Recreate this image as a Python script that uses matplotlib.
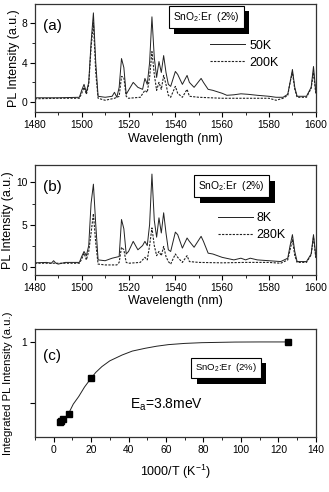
import matplotlib
matplotlib.use("Agg")
import matplotlib.pyplot as plt
import matplotlib.patheffects as pe
from matplotlib.ticker import MultipleLocator

plt.rcParams["font.family"] = ["Liberation Sans", "DejaVu Sans"]
plt.rcParams["mathtext.default"] = "regular"

# ── Datos ────────────────────────────────────────────────────────────────────
# (a) 50 K, línea continua
wl_a50 = [1480, 1490, 1499, 1500, 1501, 1502, 1503, 1504, 1505, 1506, 1507, 1510,
          1513, 1514, 1515, 1516, 1517, 1518, 1519, 1520, 1522, 1524, 1526, 1527,
          1528, 1529, 1530, 1531, 1532, 1533, 1534, 1535, 1536, 1537, 1538, 1540,
          1541, 1543, 1545, 1546, 1548, 1551, 1552, 1554, 1556, 1560, 1562, 1565,
          1568, 1571, 1575, 1580, 1583, 1586, 1588, 1589, 1590, 1591, 1592, 1596,
          1598, 1599, 1600]
pl_a50 = [0.45, 0.45, 0.5, 1.2, 1.8, 1.0, 2.0, 6.0, 9.0, 4.0, 0.6, 0.5,
          0.6, 1.0, 0.5, 1.5, 4.4, 3.5, 0.8, 1.2, 2.0, 1.5, 1.3, 2.4,
          1.8, 4.0, 8.6, 4.5, 2.5, 4.1, 3.0, 4.7, 3.0, 1.8, 1.6, 3.1,
          2.8, 1.8, 2.7, 2.0, 1.5, 2.4, 2.0, 1.3, 1.2, 0.9, 0.7, 0.75,
          0.85, 0.8, 0.7, 0.6, 0.5, 0.5, 0.8, 2.0, 3.3, 1.5, 0.6, 0.6,
          1.5, 3.6, 1.0]

# (a) 200 K, línea discontinua
wl_a200 = [1480, 1490, 1499, 1500, 1501, 1502, 1503, 1504, 1505, 1506, 1507, 1510,
           1514, 1516, 1517, 1518, 1519, 1520, 1525, 1527, 1528, 1529, 1530, 1531,
           1532, 1533, 1534, 1535, 1536, 1537, 1538, 1540, 1541, 1543, 1545, 1546,
           1550, 1560, 1570, 1580, 1583, 1586, 1588, 1589, 1590, 1591, 1592, 1596,
           1598, 1599, 1600]
pl_a200 = [0.35, 0.4, 0.4, 0.9, 1.5, 0.8, 1.8, 5.5, 8.0, 3.0, 0.4, 0.2,
           0.4, 0.6, 2.6, 2.5, 0.6, 0.4, 0.5, 1.2, 1.0, 2.5, 5.1, 2.8,
           1.2, 2.0, 1.3, 2.7, 1.8, 0.7, 0.5, 1.6, 0.9, 0.5, 1.3, 0.6,
           0.5, 0.4, 0.4, 0.4, 0.2, 0.4, 0.7, 2.0, 3.0, 1.3, 0.5, 0.5,
           1.4, 3.0, 0.8]

# (b) 8 K, línea continua
wl_b8 = [1480, 1485, 1487, 1488, 1489, 1490, 1493, 1499, 1500, 1501, 1502, 1503,
         1504, 1505, 1506, 1507, 1510, 1513, 1516, 1517, 1518, 1519, 1520, 1522,
         1524, 1526, 1527, 1528, 1529, 1530, 1531, 1532, 1533, 1534, 1535, 1536,
         1537, 1538, 1540, 1541, 1543, 1545, 1546, 1548, 1551, 1552, 1554, 1556,
         1560, 1565, 1568, 1570, 1572, 1575, 1580, 1585, 1588, 1589, 1590, 1591,
         1592, 1596, 1598, 1599, 1600]
pl_b8 = [0.45, 0.5, 0.4, 0.7, 0.4, 0.3, 0.5, 0.5, 1.2, 1.8, 1.3, 2.5,
         7.5, 9.8, 5.0, 0.8, 0.7, 1.0, 1.2, 5.6, 4.5, 1.5, 1.8, 3.0,
         2.0, 2.5, 3.0, 2.5, 5.0, 11.0, 5.5, 3.5, 5.8, 4.0, 6.4, 4.0,
         2.0, 1.8, 4.1, 3.8, 2.2, 3.4, 3.0, 2.3, 3.6, 3.0, 1.6, 1.5,
         1.1, 0.8, 1.0, 0.8, 1.0, 0.8, 0.7, 0.6, 1.0, 2.5, 3.8, 1.8,
         0.6, 0.6, 1.5, 3.8, 1.2]

# (b) 280 K, línea discontinua
wl_b280 = [1480, 1490, 1499, 1500, 1501, 1502, 1503, 1504, 1505, 1506, 1507, 1510,
           1515, 1516, 1517, 1518, 1519, 1520, 1525, 1527, 1528, 1529, 1530, 1531,
           1532, 1533, 1534, 1535, 1536, 1537, 1538, 1540, 1541, 1543, 1545, 1546,
           1550, 1560, 1570, 1580, 1585, 1588, 1589, 1590, 1591, 1592, 1596, 1598,
           1599, 1600]
pl_b280 = [0.4, 0.4, 0.4, 0.9, 1.6, 0.8, 1.8, 4.0, 6.3, 2.8, 0.3, 0.2,
           0.2, 0.5, 2.3, 2.0, 0.5, 0.4, 0.5, 1.1, 0.8, 2.5, 4.6, 2.5,
           1.3, 1.8, 1.3, 2.4, 1.2, 0.6, 0.3, 1.5, 1.1, 0.5, 1.3, 0.6,
           0.5, 0.45, 0.5, 0.5, 0.4, 0.8, 2.0, 3.2, 1.3, 0.5, 0.5, 1.4,
           3.5, 1.0]

# (c) intensidad integrada vs 1000/T
inv_T = [3.6, 4.0, 5.0, 8.0, 20.0, 125.0]
int_pl = [0.34, 0.35, 0.37, 0.41, 0.705, 1.0]

# (c) curva de ajuste
fit_x = [8.1, 10.5, 13.4, 16.5, 19.6, 22.5, 25.8, 30.0, 36.6, 42.0, 48.9,
         55.0, 61.3, 70.0, 79.1, 96.8, 110.0, 124.4]
fit_y = [0.416, 0.49, 0.552, 0.63, 0.694, 0.75, 0.798, 0.845, 0.893, 0.925, 0.948,
         0.965, 0.978, 0.988, 0.994, 0.999, 1.0, 1.0]

SAMPLE = "SnO$_2$:Er  (2%)"

# ── Figura ────────────────────────────────────────────────────────────────────
fig = plt.figure(figsize=(3.29, 4.92), dpi=100)
ax_a = fig.add_axes([0.106, 0.772, 0.854, 0.220])
ax_b = fig.add_axes([0.106, 0.441, 0.854, 0.224])
ax_c = fig.add_axes([0.106, 0.112, 0.854, 0.2195])

SHADOW = [pe.withSimplePatchShadow(offset=(4, -4), shadow_rgbFace="black", alpha=1.0)]


def sample_box(ax, x, y, fs):
    t = ax.text(x, y, SAMPLE, transform=ax.transAxes, ha="center", va="center",
                fontsize=fs,
                bbox=dict(boxstyle="square,pad=0.4", fc="white", ec="black", lw=0.8))
    t.get_bbox_patch().set_path_effects(SHADOW)


def style(ax):
    for s in ax.spines.values():
        s.set_linewidth(0.9)
        s.set_color("#333333")
    ax.tick_params(which="both", direction="out", labelsize=7.4, pad=2)
    ax.tick_params(which="major", length=3.5, width=0.8)
    ax.tick_params(which="minor", length=2, width=0.6)


# (a) y (b): espectros
for ax, wl1, pl1, wl2, pl2, labs, ylim, ymaj, tag, box_xy, leg_xy in [
        (ax_a, wl_a50, pl_a50, wl_a200, pl_a200, ("50K", "200K"), (-1, 9.9), 4,
         "(a)", (0.61, 0.88), (0.625, 0.67)),
        (ax_b, wl_b8, pl_b8, wl_b280, pl_b280, ("8K", "280K"), (-1, 12.1), 5,
         "(b)", (0.70, 0.805), (0.65, 0.57))]:
    ax.plot(wl1, pl1, color="#222222", lw=0.7, label=labs[0])
    ax.plot(wl2, pl2, color="#222222", lw=0.8, ls=(0, (2, 1.2)), label=labs[1])
    ax.set_xlim(1480, 1600)
    ax.set_ylim(*ylim)
    ax.xaxis.set_major_locator(MultipleLocator(20))
    ax.xaxis.set_minor_locator(MultipleLocator(10))
    ax.yaxis.set_major_locator(MultipleLocator(ymaj))
    ax.yaxis.set_minor_locator(MultipleLocator(ymaj / 2))
    ax.set_xlabel("Wavelength (nm)", fontsize=9, labelpad=2)
    ax.set_ylabel("PL Intensity (a.u.)", fontsize=9, labelpad=1)
    ax.text(0.03, 0.80, tag, transform=ax.transAxes, fontsize=11, va="center")
    sample_box(ax, *box_xy, fs=7.4)
    ax.legend(loc="upper left", bbox_to_anchor=leg_xy, frameon=False, fontsize=9,
              handlelength=2.8, handletextpad=0.3, labelspacing=0.4,
              borderpad=0, borderaxespad=0)
    style(ax)

# (c): intensidad integrada
ax_c.plot(fit_x, fit_y, color="#222222", lw=0.7)
ax_c.plot(inv_T, int_pl, ls="none", marker="s", ms=4.2, color="black")
ax_c.set_xlim(-10, 140)
ax_c.set_ylim(0.221, 1.107)
ax_c.xaxis.set_major_locator(MultipleLocator(20))
ax_c.xaxis.set_minor_locator(MultipleLocator(10))
ax_c.set_yticks([0.5, 1.0])
ax_c.set_yticklabels(["", "1"])
ax_c.set_xlabel("1000/T (K$^{-1}$)", fontsize=9, labelpad=6)
ax_c.set_ylabel("Integrated PL Intensity (a.u.)", fontsize=8.2, labelpad=6)
ax_c.text(0.03, 0.75, "(c)", transform=ax_c.transAxes, fontsize=11, va="center")
ax_c.text(0.338, 0.30, "E$_a$=3.8meV", transform=ax_c.transAxes, fontsize=10,
          va="center")
sample_box(ax_c, 0.68, 0.64, fs=6.8)
style(ax_c)

fig.savefig("out.png", dpi=100)
